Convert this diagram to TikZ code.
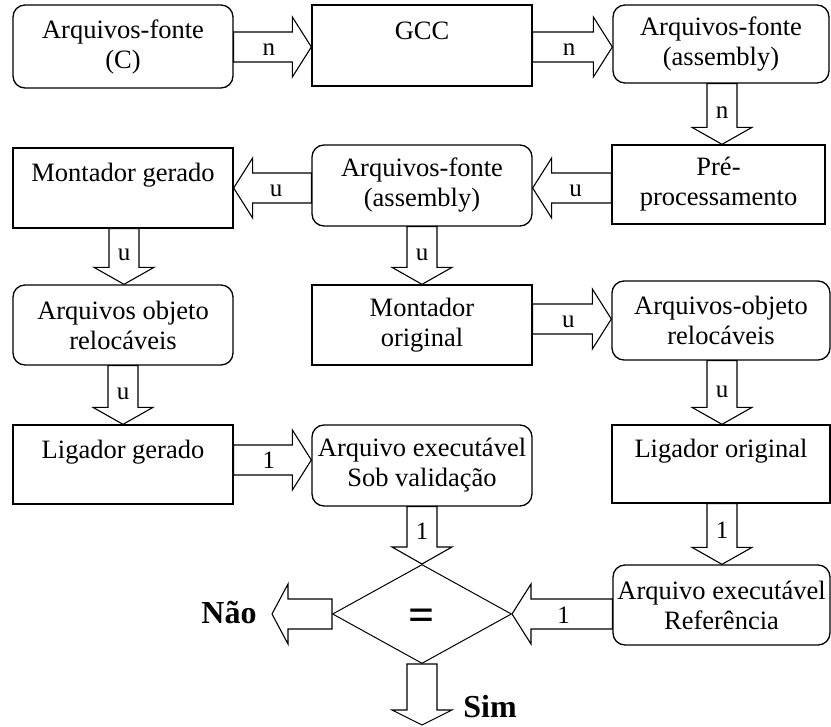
\documentclass[tikz,border=0pt]{standalone}
\usepackage{fontspec}
\setmainfont{Liberation Serif}
\usetikzlibrary{calc,shapes.geometric}
\newcommand\barrowshape[3]{% #1 head length, #2 start, #3 end
  \path (#2) coordinate (bs) (#3) coordinate (be);
  \path ($(be)!#1!(bs)$) coordinate (bh);
  \draw[blockarrow] ($(bs)!15pt!90:(be)$) -- ($(bh)!15pt!90:(be)$) -- ($(bh)!30pt!90:(be)$) -- (be)
     -- ($(bh)!30pt!-90:(be)$) -- ($(bh)!15pt!-90:(be)$) -- ($(bs)!15pt!-90:(be)$) -- cycle;
}
\newcommand\barrow[4]{% #1 head length, #2 start, #3 end, #4 label
  \barrowshape{#1}{#2}{#3}
  \node[alabel] at ($(bs)!0.6!(bh)+(0,9)$) {#4};
}
\begin{document}
\begin{tikzpicture}[x=1pt,y=-1pt,
  box/.style={draw, line width=1.3pt, minimum width=220pt, minimum height=80pt, inner sep=2pt,
    align=center, font=\fontsize{26.5}{30}\selectfont},
  rbox/.style={box, rounded corners=12pt},
  oneline/.style={text height=20pt, text depth=32pt},
  blockarrow/.style={draw, line width=1.1pt, line join=miter},
  alabel/.style={font=\fontsize{25}{30}\selectfont, inner sep=0pt, anchor=base},
  decision/.style={draw, diamond, line width=1pt, minimum width=179pt, minimum height=99pt,
    inner sep=0pt, text height=0pt, text depth=0pt, font=\bfseries\fontsize{46}{50}\selectfont},
  outlabel/.style={font=\bfseries\fontsize{32}{36}\selectfont, inner sep=0pt}
]
\useasboundingbox (0,0) rectangle (831,727);
% row 1
\node[rbox, minimum height=83pt] (A) at (123,46.5) {Arquivos-fonte\\(C)};
\node[box, oneline, minimum height=81pt] (B) at (422,45.5) {GCC};
\node[rbox, minimum width=216pt, minimum height=78pt] (C) at (721,44) {Arquivos-fonte\\(assembly)};
% row 2
\node[box, oneline] (D) at (123,188) {Montador gerado};
\node[rbox, minimum height=81pt] (E) at (422,185.5) {Arquivos-fonte\\(assembly)};
\node[box, minimum width=213pt, minimum height=79pt] (F) at (718.5,184.5) {Pré-\\processamento};
% row 3
\node[rbox] (G) at (123,325) {Arquivos objeto\\relocáveis};
\node[box] (H) at (422,325) {Montador\\original};
\node[rbox, minimum width=218pt, minimum height=79pt] (I) at (721,320.5) {Arquivos-objeto\\relocáveis};
% row 4
\node[box, oneline, minimum height=79pt] (J) at (123,464.5) {Ligador gerado};
\node[rbox, minimum height=81pt] (K) at (422,465.5) {Arquivo executável\\Sob validação};
\node[box, oneline, minimum width=218pt, minimum height=78pt] (L) at (721,464) {Ligador original};
% row 5
\node[rbox, minimum width=217pt] (M) at (721.5,605) {Arquivo executável\\Referência};
\node[decision] (N) at (422,614) {\raisebox{-17pt}{=}};
\coordinate (nao) at (272,614);
\coordinate (sim) at (422,725);
\node[outlabel] (naotext) at (229,613) {Não};
\node[outlabel] (simtext) at (490,707) {Sim};
% arrows
\barrow{19pt}{A.east |- 0,47}{B.west |- 0,47}{n}
\barrow{19pt}{B.east |- 0,47}{C.west |- 0,47}{n}
\barrow{17pt}{C.south -| 722,0}{F.north -| 722,0}{n}
\barrow{19pt}{F.west |- 0,188}{E.east |- 0,188}{u}
\barrow{19pt}{E.west |- 0,188}{D.east |- 0,188}{u}
\barrow{17pt}{D.south -| 124,0}{G.north -| 124,0}{u}
\barrow{17pt}{E.south}{H.north}{u}
\barrow{19pt}{H.east |- 0,319}{I.west |- 0,319}{u}
\barrow{17pt}{I.south -| 722,0}{L.north -| 722,0}{u}
\barrow{17pt}{G.south -| 123,0}{J.north -| 123,0}{u}
\barrow{19pt}{J.east |- 0,460}{K.west |- 0,460}{1}
\barrow{17pt}{K.south}{N.north}{1}
\barrow{17pt}{L.south -| 722,0}{M.north -| 722,0}{1}
\barrow{19pt}{M.west |- N.east}{N.east}{1}
\barrowshape{16pt}{N.west}{nao}
\barrowshape{15pt}{N.south}{sim}
\end{tikzpicture}
\end{document}
